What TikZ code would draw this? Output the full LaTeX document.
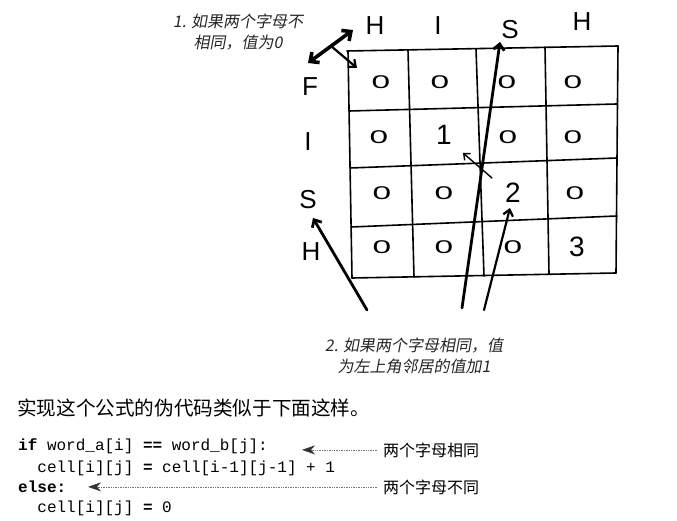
\documentclass[tikz,border=0pt]{standalone}
\usepackage{fontspec}
\usepackage{graphicx}
\setmainfont{Liberation Sans}
\newfontfamily\cjk{Noto Sans CJK SC}
\newfontfamily\hand[FakeSlant=0.18]{Noto Sans CJK SC}
\newfontfamily\codefont{Liberation Mono}
\usetikzlibrary{arrows.meta}
\newcommand\myzero{\scalebox{1.45}[0.8]{0}}
\begin{document}
\begin{tikzpicture}[x=1pt,y=-1pt,
  gridline/.style={line width=1.6pt, line cap=round},
  lbl/.style={font=\fontsize{26}{30}\selectfont, inner sep=0},
  val/.style={font=\fontsize{23}{28}\selectfont, inner sep=0},
  num/.style={font=\fontsize{28}{32}\selectfont, inner sep=0},
  note/.style={font=\hand\fontsize{16}{21}\selectfont, align=center, inner sep=0, text=black!85},
  code/.style={font=\codefont\fontsize{16}{20}\selectfont, inner sep=0, anchor=base west},
  tag/.style={font=\cjk\fontsize{16}{20}\selectfont, inner sep=0, anchor=base west},
  bigarrow/.style={line width=2.8pt, line cap=round, -{Straight Barb[length=6pt,width=11pt]}},
  midarrow/.style={line width=2.2pt, line cap=round, -{Straight Barb[length=6pt,width=10pt]}},
  thinarrow/.style={line width=1.4pt, line cap=round, -{Straight Barb[length=5pt,width=9pt]}},
  dotarrow/.style={densely dotted, black!55, line width=0.7pt, -{Stealth[length=13pt,width=9pt,inset=4pt,black!80]}}
]
\useasboundingbox (0,0) rectangle (677,521);

% ---- grid ----
\coordinate (h0l) at (347,51);  \coordinate (h0r) at (618,46);
\coordinate (h1l) at (349,111); \coordinate (h1r) at (617,104);
\coordinate (h2l) at (350,168); \coordinate (h2r) at (617,158);
\coordinate (h3l) at (351,227); \coordinate (h3r) at (617,216);
\coordinate (h4l) at (352,278); \coordinate (h4r) at (616,273);
\coordinate (v0t) at (348,51);  \coordinate (v0b) at (352,278);
\coordinate (v1t) at (408,50);  \coordinate (v1b) at (414,277);
\coordinate (v2t) at (476,49);  \coordinate (v2b) at (484,276);
\coordinate (v3t) at (545,47);  \coordinate (v3b) at (549,274);
\coordinate (v4t) at (618,46);  \coordinate (v4b) at (616,273);
\foreach \r in {0,...,4} \draw[gridline] (h\r l) -- (h\r r);
\foreach \c in {0,...,4} \draw[gridline] (v\c t) -- (v\c b);

% ---- headers ----
\node[lbl] (cH1) at (375,26) {H};
\node[lbl] (cI)  at (438,26) {I};
\node[lbl] (cS)  at (510,30) {S};
\node[lbl] (cH2) at (582,22) {H};
\node[lbl] (rF)  at (310,87) {F};
\node[lbl] (rI)  at (308,142) {I};
\node[lbl] (rS)  at (308,200) {S};
\node[lbl] (rH)  at (311,252) {H};

% ---- cell values ----
\node[val] (a11) at (381,82) {\myzero};
\node[val] (a12) at (440,82) {\myzero};
\node[val] (a13) at (507,82) {\myzero};
\node[val] (a14) at (573,82) {\myzero};
\node[val] (a21) at (379,137) {\myzero};
\node[num] (a22) at (444,135) {1};
\node[val] (a23) at (508,137) {\myzero};
\node[val] (a24) at (573,137) {\myzero};
\node[val] (a31) at (382,193) {\myzero};
\node[val] (a32) at (444,193) {\myzero};
\node[num] (a33) at (513,193) {2};
\node[val] (a34) at (575,193) {\myzero};
\node[val] (a41) at (382,247) {\myzero};
\node[val] (a42) at (444,247) {\myzero};
\node[val] (a43) at (513,247) {\myzero};
\node[num] (a44) at (577,247) {3};

% ---- notes ----
\node[note] (note1) at (238,32) {1. 如果两个字母不\\相同，值为0};
\node[note] (note2) at (414,356) {2. 如果两个字母相同，值\\为左上角邻居的值加1};

% ---- hand arrows ----
\coordinate (da) at (308,63);
\coordinate (db) at (353,30);
\coordinate (dm) at (331,46);
\coordinate (dc) at (357,68);
\draw[line width=3.6pt, line cap=round, {Straight Barb[length=7pt,width=13pt]}-{Straight Barb[length=7pt,width=13pt]}] (da) -- (db);
\draw[midarrow] (dm) -- (dc);

\coordinate (l1s) at (462,308); \coordinate (l1e) at (500,42);
\coordinate (l2s) at (484,310); \coordinate (l2e) at (510,208);
\coordinate (l3s) at (492,178); \coordinate (l3e) at (463,153);
\coordinate (l4s) at (367,310); \coordinate (l4e) at (313,218);
\draw[bigarrow] (l1s) -- (l1e);
\draw[midarrow] (l2s) -- (l2e);
\draw[thinarrow] (l3s) -- (l3e);
\draw[bigarrow] (l4s) -- (l4e);

% ---- text below ----
\node[font=\cjk\fontsize{19.6}{24}\selectfont, inner sep=0, anchor=base west] (head) at (17,415) {实现这个公式的伪代码类似于下面这样。};

\node[code] (c1) at (18,450) {\textbf{if} word\_a[i] \textbf{==} word\_b[j]:};
\node[code] (c2) at (37.2,472) {cell[i][j] \textbf{=} cell[i-1][j-1] + 1};
\node[code] (c3) at (18,492) {\textbf{else:}};
\node[code] (c4) at (37.2,512) {cell[i][j] \textbf{=} 0};

\node[tag] (same) at (383,456) {两个字母相同};
\node[tag] (diff) at (383,493) {两个字母不同};
\coordinate (tip1) at (302,449);
\coordinate (tip2) at (88,487);
\draw[dotarrow] ([xshift=-6pt]same.west) -- (tip1 |- same.west);
\draw[dotarrow] ([xshift=-6pt]diff.west) -- (tip2 |- diff.west);
\end{tikzpicture}
\end{document}
